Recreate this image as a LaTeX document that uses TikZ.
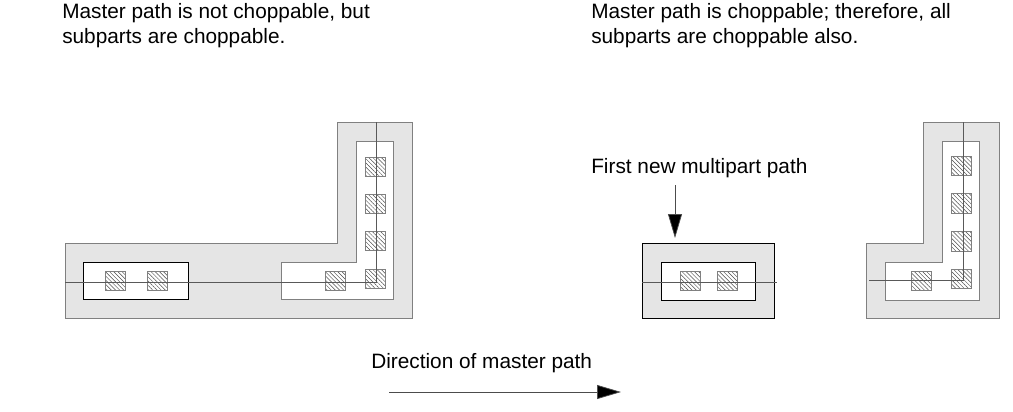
\documentclass[tikz,border=0pt]{standalone}
\usepackage{fontspec}
\setmainfont{Liberation Sans}
\usepackage{xcolor}
\definecolor{mpgrey}{RGB}{128,128,128}
\definecolor{mpfill}{RGB}{229,229,229}
\usepackage{tikz}
\usetikzlibrary{arrows.meta,patterns.meta,positioning}
\tikzset{
  outline/.style={draw=mpgrey,line width=0.7pt},
  metal/.style={outline,fill=mpfill},
  cutout/.style={outline,fill=white},
  masterline/.style={draw=black!65,line width=0.55pt},
  contact/.style={draw=mpgrey,line width=0.6pt,inner sep=0pt,minimum width=15pt,minimum height=14.5pt,
    pattern={Lines[angle=-45,distance=2.2pt,line width=0.35pt]},pattern color=black!70},
  caption/.style={anchor=base west,inner sep=0pt,font=\fontsize{15.6pt}{18pt}\selectfont},
  pointer/.style={draw=black!70,line width=0.55pt,-{Triangle[length=18pt,width=10.5pt,fill=black]}}
}
\begin{document}
\begin{tikzpicture}[x=0.75pt,y=-0.75pt]
  \useasboundingbox (0,0) rectangle (1013,411);
  % captions
  \node[caption] (noteA) at (62,18) {Master path is not choppable, but};
  \node[caption] (noteB) at (62,43) {subparts are choppable.};
  \node[caption] (noteC) at (591,18) {Master path is choppable; therefore, all};
  \node[caption] (noteD) at (591,43) {subparts are choppable also.};
  \node[caption] (first) at (591,173) {First new multipart path};
  \node[caption] (direction) at (371,368.5) {Direction of master path};
  % left path
  \draw[metal] (65,243) -- (337,243) -- (337,122) -- (412,122) -- (412,318) -- (65,318) -- cycle;
  \draw[cutout] (281,262) -- (356,262) -- (356,141) -- (393,141) -- (393,299) -- (281,299) -- cycle;
  \draw[cutout,draw=black] (83,262) rectangle (188,299);
  \foreach \name/\px/\py in {la/115/281,lb/157/281,lc/335/281,ld/375/279,le/375/241,lf/375/204,lg/375/167}
    \node[contact] (\name) at (\px,\py) {};
  \coordinate (leftstart) at (65,282.5);
  \coordinate (leftbend) at (376,282.5);
  \coordinate (leftend) at (376,122);
  \draw[masterline] (leftstart) -- (leftbend) -- (leftend);
  % first new multipart path
  \draw[metal,draw=black] (642,243) rectangle (774,318);
  \draw[cutout,draw=black] (661,262) rectangle (755,300);
  \foreach \name/\px/\py in {ma/690/281,mb/727/281}
    \node[contact] (\name) at (\px,\py) {};
  \coordinate (midstart) at (642,282);
  \coordinate (midend) at (777,282);
  \draw[masterline] (midstart) -- (midend);
  % right path
  \draw[metal] (866,243) -- (923,243) -- (923,122) -- (999,122) -- (999,318) -- (866,318) -- cycle;
  \draw[cutout] (885,262) -- (942,262) -- (942,141) -- (979,141) -- (979,300) -- (885,300) -- cycle;
  \foreach \name/\px/\py in {ra/921.5/281,rb/961/279,rc/961/241.5,rd/961/203.5,re/961/166}
    \node[contact] (\name) at (\px,\py) {};
  \coordinate (rightstart) at (869,280);
  \coordinate (rightbend) at (963,280);
  \coordinate (rightend) at (963,122);
  \draw[masterline] (rightstart) -- (rightbend) -- (rightend);
  % arrows
  \coordinate (firsttail) at (675,185);
  \coordinate (firsthead) at (675,238);
  \draw[pointer] (firsttail) -- (firsthead);
  \coordinate (dirtail) at (389,392);
  \coordinate (dirhead) at (621,392);
  \draw[pointer] (dirtail) -- (dirhead);
\end{tikzpicture}
\end{document}
